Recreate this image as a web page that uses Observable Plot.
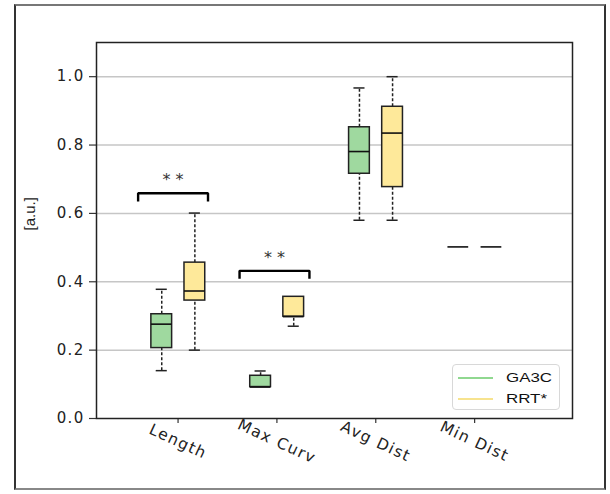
<!DOCTYPE html>
<html>
<head>
<meta charset="utf-8">
<script src="https://cdn.jsdelivr.net/npm/d3@7"></script>
<script src="https://cdn.jsdelivr.net/npm/@observablehq/plot@0.6"></script>
<style>
  body { margin: 0; background: #fff; }
  #wrap { position: relative; width: 610px; height: 494px; overflow: hidden; background: #fff; }
  #border { position: absolute; left: 14px; top: 4px; width: 592px; height: 486px; box-sizing: border-box;
            border-style: solid; border-width: 2px; border-color: #777 #333 #888 #333; pointer-events: none; }
  #legend { position: absolute; left: 452px; top: 364px; width: 108px; height: 46px; box-sizing: border-box;
            border: 1px solid #d8d8d8; border-radius: 4px; background: rgba(255,255,255,0.85);
            font-family: "Liberation Sans", Arial, sans-serif; font-size: 13px; color: #111; }
  #legend .row { position: absolute; left: 0; height: 16px; width: 100%; }
  #legend .sw { position: absolute; left: 5px; top: 7px; width: 35px; height: 2px; }
  #legend .lb { position: absolute; left: 53px; top: 0px; line-height: 16px; transform: scaleX(1.3); transform-origin: left center; white-space: nowrap; }
  svg g[aria-label="y-axis tick label"] text { letter-spacing: 1.3px; }
  svg g[aria-label="x-axis tick label"] text { letter-spacing: 1.4px; }
</style>
</head>
<body>
<div id="wrap"></div>
<script>
// ---- data ----
const categories = ["Length", "Max Curv", "Avg Dist", "Min Dist"];
const series = ["GA3C", "RRT*"];
const fills = ["#9fd99f", "#fee99a"];
const legendColors = ["#90d890", "#f7e38e"];
const yTicks = [0.0, 0.2, 0.4, 0.6, 0.8, 1.0];
const yLabel = ["[a.u.]"];

// GA3C summary statistics per category
const ga3cLow    = [0.140, 0.092, 0.580, 0.502];
const ga3cQ1     = [0.206, 0.092, 0.716, 0.502];
const ga3cMedian = [0.276, 0.092, 0.781, 0.502];
const ga3cQ3     = [0.305, 0.125, 0.852, 0.502];
const ga3cHigh   = [0.378, 0.139, 0.967, 0.502];
// RRT* summary statistics per category
const rrtLow     = [0.200, 0.270, 0.580, 0.502];
const rrtQ1      = [0.345, 0.298, 0.677, 0.502];
const rrtMedian  = [0.373, 0.298, 0.835, 0.502];
const rrtQ3      = [0.456, 0.356, 0.912, 0.502];
const rrtHigh    = [0.601, 0.356, 1.000, 0.502];

// significance brackets
const sigLabels = ["**", "**"];
const sigX1 = [0.596, 1.622];
const sigX2 = [1.303, 2.329];
const sigTop = [0.659, 0.432];
const sigFoot = [0.635, 0.409];
const sigStarY = [0.697, 0.470];

// ---- build tables ----
const offset = [-0.165, 0.17];
const halfW = 0.105, capW = 0.056;
const stats = [
  [ga3cLow, ga3cQ1, ga3cMedian, ga3cQ3, ga3cHigh],
  [rrtLow, rrtQ1, rrtMedian, rrtQ3, rrtHigh]
];
const boxes = [];
series.forEach((s, si) => {
  categories.forEach((c, ci) => {
    const [lo, q1, med, q3, hi] = stats[si].map(a => a[ci]);
    boxes.push({series: s, si, cat: c, pos: ci + 1 + offset[si], lo, q1, med, q3, hi});
  });
});
const whiskers = boxes.flatMap(b => [
  {pos: b.pos, y1: b.lo, y2: b.q1},
  {pos: b.pos, y1: b.q3, y2: b.hi}
]).filter(w => w.y2 - w.y1 > 1e-9);
const caps = boxes.flatMap(b => [
  {pos: b.pos, y: b.lo, show: b.q1 - b.lo > 1e-9},
  {pos: b.pos, y: b.hi, show: b.hi - b.q3 > 1e-9}
]).filter(c => c.show);
const sig = sigLabels.map((l, i) => ({label: l, x1: sigX1[i], x2: sigX2[i], top: sigTop[i], foot: sigFoot[i], starY: sigStarY[i]}));
const bracketPts = sig.flatMap((d, i) => [
  {k: i, x: d.x1, y: d.foot}, {k: i, x: d.x1, y: d.top},
  {k: i, x: d.x2, y: d.top}, {k: i, x: d.x2, y: d.foot}
]);

const chart = Plot.plot({
  width: 610,
  height: 494,
  marginLeft: 96,
  marginRight: 38,
  marginTop: 42,
  marginBottom: 76,
  style: {fontFamily: "DejaVu Sans", background: "transparent", color: "#222"},
  x: {domain: [0.175, 4.99], label: null},
  y: {domain: [0, 1.1], label: null},
  marks: [
    Plot.gridY(yTicks.filter(d => d > 0), {stroke: "#c6c6c6", strokeOpacity: 1, strokeWidth: 1.5}),
    Plot.axisY(yTicks, {tickFormat: d => d.toFixed(1), tickSize: 7, tickPadding: 5, fontSize: 15, stroke: "#333", strokeWidth: 1.2, label: null}),
    Plot.axisX([1, 2, 3, 4], {tickFormat: d => categories[d - 1], tickSize: 5, tickPadding: 18, tickRotate: 25, textAnchor: "middle", fontSize: 15.5, stroke: "#333", strokeWidth: 1.2, label: null}),
    Plot.text(yLabel, {text: d => d, frameAnchor: "left", rotate: -90, dx: -66, fontSize: 15, fill: "#222", fontFamily: "Liberation Sans"}),
    Plot.ruleX(whiskers, {x: "pos", y1: "y1", y2: "y2", stroke: "#222", strokeWidth: 1.5, strokeDasharray: "3,2"}),
    Plot.ruleY(caps, {y: "y", x1: d => d.pos - capW, x2: d => d.pos + capW, stroke: "#222", strokeWidth: 1.5}),
    Plot.rect(boxes, {x1: d => d.pos - halfW, x2: d => d.pos + halfW, y1: "q1", y2: "q3", fill: d => fills[d.si], stroke: "#222", strokeWidth: 1.5}),
    Plot.ruleY(boxes, {y: "med", x1: d => d.pos - halfW, x2: d => d.pos + halfW, stroke: "#111", strokeWidth: 1.6}),
    Plot.line(bracketPts, {x: "x", y: "y", z: "k", stroke: "#000", strokeWidth: 2.4, strokeLinejoin: "miter", strokeLinecap: "butt"}),
    Plot.text(sig, {x: d => (d.x1 + d.x2) / 2, y: "starY", text: d => d.label.split("").join(" "), fontSize: 16, fill: "#333"}),
    Plot.frame({stroke: "#222", strokeWidth: 1.5})
  ]
});

const wrap = document.getElementById("wrap");
wrap.appendChild(chart);

// legend (inside plot area, bottom right)
const legend = document.createElement("div");
legend.id = "legend";
series.forEach((s, i) => {
  const row = document.createElement("div");
  row.className = "row";
  row.style.top = (5 + i * 21) + "px";
  const sw = document.createElement("div");
  sw.className = "sw";
  sw.style.background = legendColors[i];
  const lb = document.createElement("div");
  lb.className = "lb";
  lb.textContent = s;
  row.appendChild(sw);
  row.appendChild(lb);
  legend.appendChild(row);
});
wrap.appendChild(legend);

const border = document.createElement("div");
border.id = "border";
wrap.appendChild(border);
</script>
</body>
</html>
